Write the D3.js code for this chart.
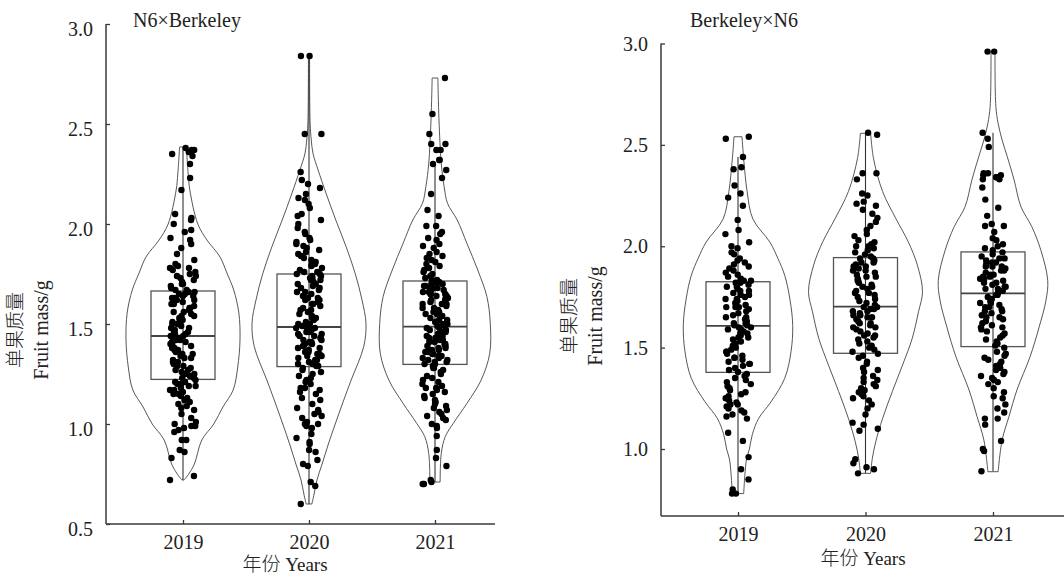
<!DOCTYPE html>
<html lang="zh">
<head>
<meta charset="UTF-8">
<title>fruit-mass-violin</title>
<script src="https://d3js.org/d3.v7.min.js"></script>
<style>
  body { margin: 0; background: #fff; }
  svg text { font-family: "Liberation Serif", "Noto Sans CJK SC", serif; fill: #222; }
  tspan.cjk { font-family: "Noto Sans CJK SC", sans-serif; font-weight: 300; fill: #222; }
</style>
</head>
<body>
<script>

const years = ["2019", "2020", "2021"];
const titles = ["N6×Berkeley", "Berkeley×N6"];
const yTicksLeft = [0.5, 1.0, 1.5, 2.0, 2.5, 3.0];
const yTicksRight = [1.0, 1.5, 2.0, 2.5, 3.0];

// single fruit mass (g), N6 x Berkeley
const n6b2019 = [0.72,0.74,0.83,0.86,0.87,0.92,0.92,0.96,0.97,0.98,0.99,0.99,1.00,1.01,1.03,1.05,1.07,1.08,1.09,1.10,1.11,1.12,1.13,1.14,1.15,1.15,1.16,1.17,1.17,1.18,1.19,1.19,1.20,1.20,1.21,1.21,1.22,
  1.23,1.23,1.24,1.25,1.25,1.26,1.27,1.27,1.28,1.29,1.29,1.30,1.31,1.31,1.32,1.33,1.33,1.34,1.35,1.35,1.36,1.37,1.37,1.38,1.38,1.39,1.40,1.40,1.41,1.41,1.42,1.42,1.43,1.43,1.44,1.44,1.44,1.45,
  1.45,1.46,1.46,1.47,1.48,1.48,1.49,1.50,1.50,1.51,1.52,1.52,1.53,1.54,1.54,1.55,1.56,1.56,1.57,1.58,1.58,1.59,1.60,1.60,1.61,1.62,1.62,1.63,1.63,1.64,1.64,1.65,1.65,1.66,1.66,1.67,1.67,1.68,
  1.69,1.70,1.70,1.71,1.72,1.73,1.74,1.74,1.75,1.76,1.77,1.78,1.78,1.79,1.80,1.82,1.85,1.88,1.90,1.92,1.93,1.96,1.97,2.00,2.02,2.03,2.05,2.17,2.23,2.30,2.34,2.35,2.36,2.37,2.37,2.38];
const n6b2020 = [0.60,0.69,0.71,0.79,0.80,0.82,0.86,0.87,0.90,0.91,0.93,0.95,0.98,0.99,1.00,1.00,1.01,1.03,1.04,1.05,1.06,1.07,1.08,1.10,1.12,1.13,1.15,1.16,1.17,1.18,1.18,1.20,1.21,1.22,1.23,1.24,1.25,1.26,1.27,1.28,
  1.29,1.29,1.30,1.30,1.31,1.32,1.32,1.33,1.34,1.34,1.35,1.36,1.36,1.37,1.38,1.38,1.39,1.40,1.40,1.41,1.41,1.42,1.43,1.43,1.44,1.44,1.45,1.45,1.46,1.46,1.47,1.47,1.48,1.48,1.48,1.49,1.49,1.35,1.42,1.39,
  1.50,1.50,1.51,1.52,1.53,1.53,1.54,1.55,1.56,1.57,1.57,1.58,1.59,1.60,1.60,1.61,1.62,1.63,1.63,1.64,1.65,1.66,1.66,1.67,1.68,1.68,1.69,1.70,1.70,1.71,1.72,1.72,1.73,1.73,1.74,1.74,1.75,1.75,1.76,1.62,
  1.76,1.77,1.78,1.79,1.80,1.80,1.81,1.82,1.83,1.84,1.85,1.86,1.87,1.88,1.89,1.90,1.91,1.92,1.93,1.95,1.96,1.98,2.00,2.02,2.04,2.05,2.08,2.10,2.12,2.13,2.15,2.18,2.20,2.22,2.26,2.45,2.45,2.84,2.84];
const n6b2021 = [0.70,0.70,0.71,0.72,0.79,0.83,0.87,0.94,0.98,0.99,1.00,1.02,1.03,1.04,1.05,1.06,1.07,1.08,1.09,1.10,1.11,1.12,1.13,1.14,1.15,1.16,1.17,1.18,1.18,1.19,1.20,1.21,1.22,1.23,1.24,1.25,1.26,1.27,1.28,1.28,1.29,1.29,
  1.30,1.30,1.31,1.31,1.32,1.32,1.33,1.34,1.34,1.35,1.35,1.36,1.37,1.37,1.38,1.38,1.39,1.39,1.40,1.40,1.41,1.41,1.42,1.42,1.43,1.43,1.44,1.44,1.45,1.45,1.46,1.46,1.47,1.47,1.48,1.48,1.49,1.49,1.36,1.40,1.44,1.33,
  1.50,1.50,1.51,1.52,1.52,1.53,1.54,1.54,1.55,1.56,1.56,1.57,1.58,1.58,1.59,1.60,1.60,1.61,1.62,1.62,1.63,1.63,1.64,1.64,1.65,1.65,1.66,1.66,1.67,1.67,1.68,1.68,1.69,1.69,1.70,1.70,1.71,1.71,1.60,1.65,1.55,1.68,
  1.72,1.72,1.73,1.74,1.75,1.76,1.77,1.78,1.79,1.80,1.81,1.82,1.83,1.84,1.85,1.86,1.88,1.89,1.90,1.92,1.93,1.95,1.96,1.99,1.99,2.04,2.07,2.15,2.23,2.27,2.30,2.32,2.32,2.37,2.37,2.40,2.40,2.45,2.55,2.73];

// single fruit mass (g), Berkeley x N6
const bn62019 = [0.78,0.78,0.80,0.85,0.90,0.96,1.04,1.08,1.15,1.16,1.17,1.18,1.19,1.20,1.21,1.22,1.22,1.23,1.24,1.25,1.26,1.27,1.28,1.29,1.30,1.31,1.32,1.33,1.34,1.35,1.36,1.37,
  1.38,1.39,1.40,1.41,1.42,1.43,1.44,1.45,1.45,1.46,1.47,1.48,1.49,1.50,1.51,1.52,1.52,1.53,1.54,1.55,1.56,1.57,1.57,1.58,1.59,1.59,1.60,1.60,1.61,1.48,1.55,1.42,
  1.61,1.62,1.62,1.63,1.64,1.65,1.65,1.66,1.67,1.68,1.69,1.70,1.70,1.71,1.72,1.73,1.74,1.74,1.75,1.76,1.77,1.78,1.78,1.79,1.80,1.80,1.81,1.82,1.82,1.83,1.70,1.76,
  1.83,1.84,1.85,1.86,1.87,1.88,1.89,1.90,1.91,1.92,1.93,1.94,1.96,1.97,1.99,2.00,2.02,2.06,2.08,2.13,2.20,2.24,2.26,2.30,2.38,2.39,2.44,2.53,2.54];
const bn62020 = [0.88,0.90,0.91,0.93,0.95,1.09,1.10,1.12,1.13,1.17,1.20,1.22,1.24,1.25,1.26,1.27,1.28,1.29,1.30,1.31,1.32,1.33,1.34,1.35,1.36,1.38,1.39,1.40,1.42,1.43,1.45,1.46,
  1.47,1.48,1.49,1.50,1.51,1.52,1.53,1.54,1.55,1.56,1.57,1.58,1.59,1.60,1.61,1.62,1.62,1.63,1.64,1.65,1.66,1.66,1.67,1.68,1.68,1.69,1.69,1.70,1.70,1.56,1.60,1.65,
  1.71,1.72,1.73,1.74,1.75,1.76,1.77,1.78,1.79,1.80,1.81,1.82,1.83,1.84,1.85,1.86,1.87,1.88,1.89,1.90,1.91,1.92,1.93,1.94,1.94,1.80,1.85,1.88,1.92,1.77,1.83,1.90,
  1.95,1.96,1.97,1.98,1.99,2.00,2.00,2.01,2.02,2.03,2.05,2.06,2.08,2.10,2.12,2.14,2.16,2.18,2.20,2.21,2.22,2.25,2.26,2.33,2.36,2.36,2.55,2.56];
const bn62021 = [0.89,0.99,1.00,1.04,1.12,1.15,1.15,1.18,1.20,1.22,1.25,1.26,1.28,1.30,1.32,1.33,1.34,1.35,1.36,1.37,1.38,1.39,1.40,1.41,1.42,1.43,1.44,1.45,1.46,1.47,1.48,1.50,
  1.51,1.52,1.53,1.54,1.55,1.56,1.57,1.58,1.59,1.60,1.61,1.62,1.63,1.64,1.65,1.66,1.67,1.68,1.69,1.70,1.71,1.72,1.73,1.74,1.75,1.76,1.76,1.60,1.65,1.70,1.72,1.68,
  1.77,1.78,1.79,1.80,1.80,1.81,1.82,1.83,1.84,1.84,1.85,1.86,1.87,1.88,1.88,1.89,1.90,1.90,1.91,1.92,1.93,1.94,1.95,1.96,1.97,1.82,1.86,1.90,1.94,1.79,1.85,1.92,
  1.98,1.99,2.00,2.01,2.03,2.04,2.07,2.10,2.10,2.11,2.15,2.19,2.23,2.29,2.33,2.33,2.34,2.34,2.35,2.35,2.36,2.36,2.49,2.53,2.56,2.96,2.96];

// box stats per year: [whisker low, Q1, median, Q3, whisker high]
const boxN6B = [[0.72, 1.223, 1.44, 1.665, 2.38], [0.60, 1.287, 1.485, 1.75, 2.837], [0.71, 1.298, 1.487, 1.715, 2.30]];
const boxBN6 = [[0.78, 1.378, 1.607, 1.825, 2.44], [0.88, 1.472, 1.702, 1.944, 2.557], [0.89, 1.505, 1.768, 1.972, 2.56]];

// violin outlines: [mass, relative density]
const violinN6B2019 = [[0.72,0.02],[0.75,0.10],[0.80,0.20],[0.92,0.33],[1.00,0.54],[1.085,0.70],[1.17,0.88],[1.285,0.96],[1.42,1.0],[1.555,0.98],[1.67,0.89],[1.755,0.77],[1.835,0.65],[1.92,0.42],[2.00,0.26],[2.17,0.12],[2.255,0.09],[2.385,0.06]];
const violinN6B2020 = [[0.60,0.05],[0.65,0.09],[0.72,0.14],[0.80,0.23],[0.90,0.34],[1.00,0.46],[1.12,0.61],[1.22,0.74],[1.387,0.96],[1.503,1.0],[1.62,0.93],[1.753,0.81],[1.887,0.65],[2.02,0.47],[2.153,0.30],[2.27,0.16],[2.353,0.07],[2.42,0.04],[2.5,0.02],[2.84,0.01]];
const violinN6B2021 = [[0.71,0.09],[0.853,0.11],[0.937,0.18],[1.003,0.32],[1.103,0.56],[1.22,0.81],[1.353,0.96],[1.503,0.97],[1.637,0.91],[1.77,0.75],[1.903,0.56],[2.02,0.39],[2.103,0.22],[2.187,0.16],[2.303,0.11],[2.52,0.07],[2.73,0.05]];
const violinBN62019 = [[0.78,0.10],[0.87,0.12],[0.95,0.15],[1.0,0.20],[1.07,0.25],[1.15,0.36],[1.233,0.58],[1.349,0.82],[1.48,0.93],[1.61,0.96],[1.74,0.91],[1.856,0.82],[1.94,0.70],[2.02,0.56],[2.135,0.26],[2.27,0.16],[2.43,0.10],[2.54,0.07]];
const violinBN62020 = [[0.88,0.09],[0.954,0.12],[1.036,0.18],[1.151,0.30],[1.283,0.47],[1.414,0.65],[1.546,0.82],[1.677,0.93],[1.776,1.0],[1.907,0.91],[2.022,0.75],[2.138,0.53],[2.27,0.30],[2.434,0.14],[2.557,0.09]];
const violinBN62021 = [[0.888,0.09],[1.044,0.16],[1.16,0.28],[1.291,0.42],[1.455,0.65],[1.602,0.81],[1.734,0.93],[1.832,0.96],[1.98,0.84],[2.097,0.68],[2.195,0.49],[2.327,0.37],[2.442,0.25],[2.524,0.16],[2.606,0.09],[2.69,0.05],[2.96,0.035]];

const width = 1064, height = 578;

const svg = d3.select("body").append("svg")
    .attr("width", width)
    .attr("height", height);

svg.append("rect").attr("width", width).attr("height", height).attr("fill", "#fff");

const panels = [
    {
        title: titles[0], titleX: 133, titleY: 27,
        left: 106, right: 495, top: 24, bottom: 524,
        yDomain: [0.5, 3.0], yRange: [524, 24], yTicks: yTicksLeft, yLabelDy: 11,
        xRange: [183, 435], xLabelX: 285, xLabelY: 571,
        yLabX1: 22, yLabX2: 48, yLabCy: 330,
        series: [n6b2019, n6b2020, n6b2021],
        boxes: boxN6B,
        violins: [violinN6B2019, violinN6B2020, violinN6B2021]
    },
    {
        title: titles[1], titleX: 690, titleY: 27,
        left: 661, right: 1064, top: 43.5, bottom: 516,
        yDomain: [1.0, 3.0], yRange: [449, 43.5], yTicks: yTicksRight, yLabelDy: 6.5,
        xRange: [738, 993], xLabelX: 863, xLabelY: 565,
        yLabX1: 576, yLabX2: 602, yLabCy: 316,
        series: [bn62019, bn62020, bn62021],
        boxes: boxBN6,
        violins: [violinBN62019, violinBN62020, violinBN62021]
    }
];

const axisColor = "#3a3a3a";
const halfWidth = d3.scaleLinear().domain([0, 1]).range([0, 57]);
const boxHalf = 32;
const jitterHalf = 13;

// deterministic horizontal spread for the dots (layout only)
function spread(j, i) {
    const s = Math.sin(j * 12.9898 + i * 78.233) * 43758.5453;
    return (s - Math.floor(s)) * 2 - 1;
}

panels.forEach(function (p, pi) {
    const g = svg.append("g");
    const y = d3.scaleLinear().domain(p.yDomain).range(p.yRange);
    const x = d3.scalePoint().domain(years).range(p.xRange);

    // violins
    p.violins.forEach(function (prof, i) {
        const cx = x(years[i]);
        const area = d3.area()
            .y(d => y(d[0]))
            .x0(d => cx - halfWidth(d[1]))
            .x1(d => cx + halfWidth(d[1]))
            .curve(d3.curveCatmullRom.alpha(0.5));
        g.append("path")
            .datum(prof)
            .attr("d", area)
            .attr("fill", "none")
            .attr("stroke", "#444")
            .attr("stroke-width", 0.9);
    });

    // whiskers and boxes
    p.boxes.forEach(function (b, i) {
        const cx = x(years[i]);
        g.append("line")
            .attr("x1", cx).attr("x2", cx)
            .attr("y1", y(b[0])).attr("y2", y(b[4]))
            .attr("stroke", "#333").attr("stroke-width", 1.1);
        g.append("rect")
            .attr("x", cx - boxHalf).attr("width", boxHalf * 2)
            .attr("y", y(b[3])).attr("height", y(b[1]) - y(b[3]))
            .attr("fill", "none")
            .attr("stroke", "#555").attr("stroke-width", 1.3);
        g.append("line")
            .attr("x1", cx - boxHalf).attr("x2", cx + boxHalf)
            .attr("y1", y(b[2])).attr("y2", y(b[2]))
            .attr("stroke", "#444").attr("stroke-width", 1.8);
    });

    // jittered points
    p.series.forEach(function (vals, i) {
        const cx = x(years[i]);
        g.append("g").selectAll("circle")
            .data(vals)
            .enter()
            .append("circle")
            .attr("cx", (d, j) => cx + spread(j, i + pi * 3) * jitterHalf)
            .attr("cy", d => y(d))
            .attr("r", 3.2)
            .attr("fill", "#000");
    });

    // axes
    const yAxis = g.append("g")
        .attr("transform", `translate(${p.left},0)`)
        .call(d3.axisLeft(y).tickValues(p.yTicks).tickFormat(d3.format(".1f"))
            .tickSize(-4).tickPadding(13));
    yAxis.select(".domain").remove();
    yAxis.selectAll(".tick line").attr("stroke", axisColor).attr("stroke-width", 1.3);
    yAxis.selectAll("text")
        .attr("dy", p.yLabelDy)
        .style("font-size", "20px")
        .attr("fill", "#222");

    const xAxis = g.append("g")
        .attr("transform", `translate(0,${p.bottom})`)
        .call(d3.axisBottom(x).tickSize(-4).tickPadding(11));
    xAxis.select(".domain").remove();
    xAxis.selectAll(".tick line").attr("stroke", axisColor).attr("stroke-width", 1.3);
    xAxis.selectAll("text")
        .style("font-size", "20px")
        .attr("fill", "#222");

    g.append("line")
        .attr("x1", p.left).attr("x2", p.left)
        .attr("y1", p.top).attr("y2", p.bottom)
        .attr("stroke", axisColor).attr("stroke-width", 1.5);
    g.append("line")
        .attr("x1", p.left).attr("x2", p.right)
        .attr("y1", p.bottom).attr("y2", p.bottom)
        .attr("stroke", axisColor).attr("stroke-width", 1.5);

    // titles and labels
    g.append("text")
        .attr("x", p.titleX).attr("y", p.titleY)
        .style("font-size", "20px")
        .text(p.title);

    const xl = g.append("text")
        .attr("x", p.xLabelX).attr("y", p.xLabelY)
        .attr("text-anchor", "middle")
        .style("font-size", "19px");
    xl.append("tspan").attr("class", "cjk").text("年份");
    xl.append("tspan").text(" Years");

    g.append("text")
        .attr("transform", `translate(${p.yLabX1},${p.yLabCy}) rotate(-90)`)
        .attr("text-anchor", "middle")
        .style("font-size", "19px")
        .append("tspan").attr("class", "cjk")
        .text("单果质量");
    g.append("text")
        .attr("transform", `translate(${p.yLabX2},${p.yLabCy}) rotate(-90)`)
        .attr("text-anchor", "middle")
        .style("font-size", "20px")
        .text("Fruit mass/g");
});

</script>
</body>
</html>
